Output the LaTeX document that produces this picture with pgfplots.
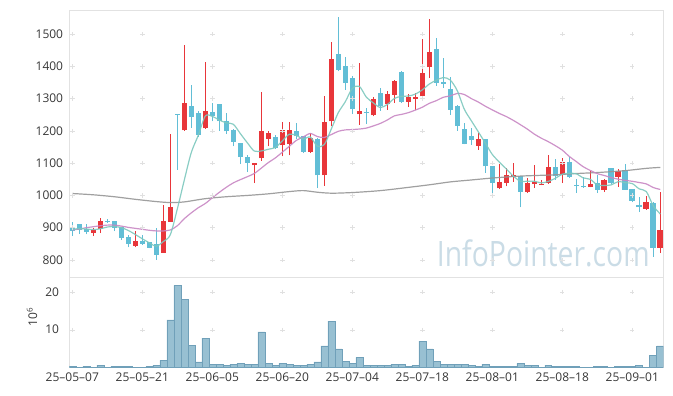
\documentclass[border=0pt]{standalone}
\usepackage{pgfplots}
\pgfplotsset{compat=1.18}
\usepackage{pgfplotstable}
\usepackage{fontspec}
\setmainfont{Open Sans}

\definecolor{upred}{RGB}{232,54,58}
\definecolor{dncyan}{RGB}{98,190,214}
\definecolor{mafive}{RGB}{125,200,190}
\definecolor{matwenty}{RGB}{200,135,195}
\definecolor{malong}{RGB}{150,150,150}
\definecolor{volfill}{RGB}{152,192,210}
\definecolor{voldraw}{RGB}{112,160,185}
\definecolor{framec}{RGB}{226,226,226}
\definecolor{crossc}{RGB}{224,224,224}
\definecolor{wm}{RGB}{202,220,230}
\definecolor{lab}{RGB}{55,55,55}

\pgfplotstableread{
i o h l c v m5 m20
0 900 917 874 890 0.35 895 893
1 912 913 880 893 0.1 897 896
2 895 911 879 886 0.35 896 900
3 885 899 874 893 0.1 894 903
4 897 929 883 921 0.6 896.6 906
5 921 927 914 918 0.1 902.2 908
6 921 922 889 900 0.35 903.6 908
7 901 902 862 869 0.35 900.2 905
8 871 878 839 849 0.35 891.4 901
9 843 890 839 859 0.1 879.0 898
10 859 877 847 851 0.1 865.6 895
11 855 857 836 838 0.3 853.2 892
12 849 898 800 816 0.6 842.6 890
13 823 969 822 921 1.9 857.0 890
14 919 1190 918 965 12.6 878.2 893
15 1253 1254 1080 1250 21.7 958.0 906
16 1202 1468 1200 1287 18.1 1047.8 928
17 1278 1342 1210 1243 5.9 1133.2 946
18 1255 1262 1181 1188 1.5 1186.6 962
19 1208 1414 1207 1263 7.8 1246.2 975.0
20 1259 1287 1230 1245 0.9 1245.2 992.8
21 1284 1285 1200 1230 0.9 1233.8 1009.6
22 1230 1255 1190 1199 0.6 1225.0 1025.3
23 1204 1205 1152 1167 0.9 1220.8 1039.0
24 1162 1163 1097 1119 1.1 1192.0 1048.9
25 1120 1126 1072 1102 0.9 1163.4 1058.1
26 1093 1102 1038 1101 0.9 1137.6 1068.1
27 1115 1321 1108 1201 9.4 1138.0 1084.7
28 1175 1201 1152 1193 1.1 1143.2 1101.9
29 1182 1188 1145 1147 0.6 1148.8 1116.3
30 1155 1228 1121 1204 1.1 1169.2 1134.0
31 1160 1228 1124 1204 0.9 1189.8 1152.3
32 1201 1224 1175 1183 0.6 1186.2 1170.6
33 1183 1184 1131 1136 0.6 1174.8 1181.4
34 1136 1193 1133 1179 0.9 1181.2 1192.1
35 1176 1177 1023 1062 1.5 1152.8 1182.7
36 1062 1307 1030 1229 5.7 1157.8 1179.8
37 1230 1476 1214 1424 12.3 1206.0 1188.8
38 1440 1554 1385 1390 4.9 1256.8 1198.9
39 1402 1429 1327 1348 1.7 1290.6 1203.2
40 1365 1371 1252 1267 1.1 1331.6 1204.3
41 1251 1411 1219 1263 2.7 1338.4 1205.9
42 1259 1271 1221 1257 0.6 1305.0 1208.8
43 1248 1304 1245 1300 0.6 1287.0 1215.5
44 1319 1333 1263 1276 0.6 1272.6 1223.3
45 1282 1323 1266 1314 0.6 1282.0 1233.9
46 1312 1359 1286 1356 0.9 1300.6 1246.7
47 1384 1385 1287 1290 0.9 1307.2 1251.1
48 1289 1316 1274 1305 0.3 1308.2 1256.7
49 1300 1318 1266 1305 0.6 1314.0 1264.6
50 1307 1485 1300 1381 7.0 1327.4 1273.5
51 1397 1547 1364 1446 4.9 1345.4 1285.6
52 1455 1488 1340 1349 1.7 1357.2 1293.9
53 1351 1426 1333 1347 0.9 1365.6 1304.4
54 1331 1367 1250 1265 0.9 1357.6 1308.7
55 1278 1279 1200 1216 0.9 1324.6 1316.4
56 1207 1225 1158 1160 0.9 1267.4 1313.0
57 1185 1209 1157 1171 0.6 1231.8 1300.3
58 1154 1195 1142 1175 0.3 1197.4 1289.6
59 1175 1176 1071 1090 0.9 1162.4 1276.7
60 1090 1091 1004 1040 0.3 1127.2 1265.3
61 1022 1096 1021 1042 0.3 1103.6 1254.3
62 1040 1085 1028 1064 0.3 1082.2 1244.6
63 1057 1100 1043 1064 0.3 1060.0 1232.8
64 1059 1060 963 1012 1.1 1044.4 1219.6
65 1010 1053 1007 1038 0.6 1044.0 1205.8
66 1037 1093 1023 1043 0.6 1044.2 1190.2
67 1032 1047 1031 1037 0.1 1038.8 1177.5
68 1038 1125 1037 1088 0.6 1043.6 1166.7
69 1088 1113 1048 1059 0.3 1053.0 1154.4
70 1062 1116 1038 1103 0.3 1066.0 1140.5
71 1103 1118 1053 1056 0.3 1068.6 1121.0
72 1032 1050 1008 1029 0.3 1067.0 1105.0
73 1030 1056 1024 1025 0.05 1054.4 1088.9
74 1026 1077 1025 1037 0.05 1050.0 1077.5
75 1039 1064 1007 1017 0.3 1032.8 1067.5
76 1018 1050 1010 1047 0.3 1031.0 1061.9
77 1085 1086 1037 1038 0.05 1032.8 1055.2
78 1057 1082 1026 1076 0.3 1043.0 1050.3
79 1080 1097 1017 1018 0.3 1039.6 1046.7
80 1020 1021 979 984 0.3 1036.8 1043.9
81 971 994 948 964 0.6 1020.2 1040.0
82 958 997 955 981 0.05 1012.2 1035.8
83 978 979 810 838 3.3 967.6 1024.5
84 838 1012 821 893 5.7 942.6 1018.6
}\data

\pgfplotstableread{
i m
0 1006
3 1002
6 996
9 988
12 981
14 978
16 980
19 990
22 996
25 1000
28 1005
31 1012
33 1015
35 1010
37 1007
40 1009
44 1015
48 1025
51 1033
54 1042
57 1048
60 1054
64 1060
69 1064
72 1068
75 1071
79 1077
82 1084
84 1087
}\malongdata

\def\maincross{}
\foreach \x in {0,10,...,80}{\foreach \y in {800,900,...,1500}{\xdef\maincross{\maincross(\x,\y)}}}
\def\volcross{}
\foreach \x in {0,10,...,80}{\foreach \y in {10,20}{\xdef\volcross{\volcross(\x,\y)}}}

\pgfplotsset{chart/.style={
  scale only axis, width=594pt, xmin=-0.43, xmax=84.43,
  axis line style={draw=framec, line width=0.8pt},
  tick style={draw=none},
  xtick={0,10,...,80},
  tick label style={font=\fontsize{12}{14}\selectfont, text=lab},
  /pgf/number format/assume math mode=true,
  /pgf/number format/1000 sep={},
},
candle/.style={draw=none, mark=none, forget plot,
  error bars/y dir=plus, error bars/y explicit, error bars/error mark=none}
}

\begin{document}
\begin{tikzpicture}
\path[use as bounding box] (0,0) rectangle (673pt,396pt);
\node[anchor=base west, inner sep=0pt, text=wm, font=\fontsize{35}{40}\selectfont] at (436.7pt,129.3pt) {\scalebox{0.81}[1]{InfoPointer.com}};

\begin{axis}[chart, at={(69.3pt,386pt)}, anchor=north west, height=267.7pt,
  ymin=745, ymax=1575, ytick={800,900,...,1500}, xticklabels={},
  yticklabel style={anchor=east, inner sep=0pt, xshift=-6pt}]
\edef\tmp{\noexpand\addplot[only marks, mark=+, mark size=2.2pt, crossc, forget plot] coordinates {\maincross};}\tmp
% wicks up
\addplot[candle, restrict expr to domain={\thisrow{c}-\thisrow{o}}{0:100000},
  error bars/error bar style={draw=upred, line width=1pt}]
  table[x=i, y=l, y error plus expr={\thisrow{h}-\thisrow{l}}] {\data};
% wicks down
\addplot[candle, restrict expr to domain={\thisrow{c}-\thisrow{o}}{-100000:-0.001},
  error bars/error bar style={draw=dncyan, line width=1pt}]
  table[x=i, y=l, y error plus expr={\thisrow{h}-\thisrow{l}}] {\data};
% bodies up
\addplot[candle, restrict expr to domain={\thisrow{c}-\thisrow{o}}{0:100000},
  error bars/error bar style={draw=upred, line width=5.6pt}]
  table[x=i, y expr={min(\thisrow{o},\thisrow{c})}, y error plus expr={max(abs(\thisrow{c}-\thisrow{o}),3)}] {\data};
% bodies down
\addplot[candle, restrict expr to domain={\thisrow{c}-\thisrow{o}}{-100000:-0.001},
  error bars/error bar style={draw=dncyan, line width=5.6pt}]
  table[x=i, y expr={min(\thisrow{o},\thisrow{c})}, y error plus expr={max(abs(\thisrow{c}-\thisrow{o}),3)}] {\data};
\addplot[malong, line width=1.2pt, smooth, tension=0.5, opacity=0.9] table[x=i, y=m] {\malongdata};
\addplot[matwenty, line width=1.2pt, smooth, tension=0.5, opacity=0.9] table[x=i, y=m20] {\data};
\addplot[mafive, line width=1.2pt, smooth, tension=0.5, opacity=0.9] table[x=i, y=m5] {\data};
\end{axis}

\begin{axis}[chart, at={(69.3pt,118.3pt)}, anchor=north west, height=89.8pt,
  ymin=0, ymax=23.76, ytick={10,20},
  xticklabels={25\textendash05\textendash07,25\textendash05\textendash21,25\textendash06\textendash05,25\textendash06\textendash20,25\textendash07\textendash04,25\textendash07\textendash18,25\textendash08\textendash01,25\textendash08\textendash18,25\textendash09\textendash01},
  xticklabel style={anchor=north, inner sep=0pt, yshift=-5.4pt},
  yticklabel style={anchor=east, inner sep=0pt, xshift=-10pt}]
\edef\tmp{\noexpand\addplot[only marks, mark=+, mark size=2.2pt, crossc, forget plot] coordinates {\volcross};}\tmp
\addplot[ybar, bar width=1, fill=volfill, draw=voldraw, line width=0.6pt] table[x=i, y=v] {\data};
\end{axis}
\node[rotate=90, text=lab, font=\fontsize{12}{14}\selectfont] at (32pt,79pt) {10\textsuperscript{6}};
\end{tikzpicture}
\end{document}
